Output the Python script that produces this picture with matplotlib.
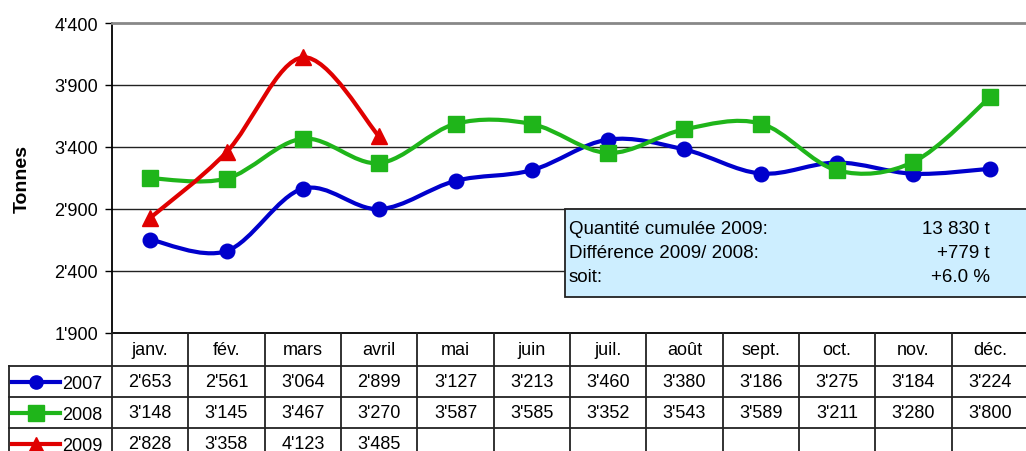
import matplotlib.pyplot as plt
from matplotlib.path import Path
from matplotlib.patches import PathPatch, Rectangle

plt.rcParams['font.family'] = ['Liberation Sans', 'DejaVu Sans']

# donnees
mois = ["janv.", "fév.", "mars", "avril", "mai", "juin",
        "juil.", "août", "sept.", "oct.", "nov.", "déc."]
v2007 = [2653, 2561, 3064, 2899, 3127, 3213, 3460, 3380, 3186, 3275, 3184, 3224]
v2008 = [3148, 3145, 3467, 3270, 3587, 3585, 3352, 3543, 3589, 3211, 3280, 3800]
v2009 = [2828, 3358, 4123, 3485]
annees = ["2007", "2008", "2009"]
couleurs = ["#0000cc", "#1fb51a", "#e00000"]
marqueurs = ["o", "s", "^"]
tailles = [10.5, 12, 11]
yticks = [1900, 2400, 2900, 3400, 3900, 4400]
box_labels = ["Quantité cumulée 2009:", "Différence 2009/ 2008:", "soit:"]
box_values = ["13 830 t", "+779 t", "+6.0 %"]

series = [v2007, v2008, v2009]


def fmt(v):
    return f"{v:,}".replace(",", "'")


def smooth_path(vals):
    # courbe lissee facon Excel (Bezier type Catmull-Rom)
    pts = list(enumerate(vals))
    n = len(pts)
    verts = [pts[0]]
    codes = [Path.MOVETO]
    for i in range(n - 1):
        p0 = pts[max(i - 1, 0)]
        p1 = pts[i]
        p2 = pts[i + 1]
        p3 = pts[min(i + 2, n - 1)]
        c1 = (p1[0] + (p2[0] - p0[0]) / 6, p1[1] + (p2[1] - p0[1]) / 6)
        c2 = (p2[0] - (p3[0] - p1[0]) / 6, p2[1] - (p3[1] - p1[1]) / 6)
        verts += [c1, c2, p2]
        codes += [Path.CURVE4] * 3
    return Path(verts, codes)


fig = plt.figure(figsize=(10.26, 4.52), dpi=100)
W, H = 1026, 452

ax = fig.add_axes([112 / W, 118 / H, 916 / W, 310 / H])
ax.set_xlim(-0.5, 11.5)
ax.set_ylim(1900, 4400)
ax.set_yticks(yticks)
ax.set_yticklabels([fmt(t) for t in yticks], fontsize=13)
ax.tick_params(axis='y', length=5, width=1, pad=5, direction='out')
ax.set_xticks([])
for y in yticks[1:-1]:
    ax.axhline(y, color='#222222', lw=1, zorder=1)
ax.spines['right'].set_visible(False)
ax.spines['top'].set_color('#888888')
ax.spines['top'].set_linewidth(2)
ax.spines['left'].set_linewidth(1.3)
ax.spines['bottom'].set_linewidth(1.3)
ax.set_ylabel("Tonnes", fontsize=14, fontweight='bold', labelpad=17)

for k, vals in enumerate(series):
    patch = PathPatch(smooth_path(vals), facecolor='none', edgecolor=couleurs[k],
                      lw=3, zorder=3 + k, capstyle='round', joinstyle='round')
    ax.add_patch(patch)
    ax.plot(range(len(vals)), vals, linestyle='none', marker=marqueurs[k],
            ms=tailles[k], color=couleurs[k], zorder=3 + k, clip_on=False)

# encadre
ax.add_patch(Rectangle((453 / 916, 36 / 310), 470 / 916, 88 / 310,
                       transform=ax.transAxes, facecolor='#cdeeff',
                       edgecolor='#222222', lw=1.3, zorder=8, clip_on=False))
for i in range(3):
    yy = (334 - 229 - 24.5 * i) / 310
    ax.text(457 / 916, yy, box_labels[i], transform=ax.transAxes, fontsize=13.5,
            va='center', ha='left', zorder=9)
    ax.text(878 / 916, yy, box_values[i], transform=ax.transAxes, fontsize=13.5,
            va='center', ha='right', zorder=9)

# tableau
LEG = 103 / 76.33
axt = fig.add_axes([9 / W, 0, 1019 / W, 118 / H])
axt.set_xlim(-0.5 - LEG, 11.5)
axt.set_ylim(118, 0)
axt.axis('off')
lc = '#222222'
for x in range(13):
    axt.plot([x - 0.5, x - 0.5], [0, 130], color=lc, lw=1.3, clip_on=False)
axt.plot([-0.5 - LEG, -0.5 - LEG], [33, 130], color=lc, lw=1.3, clip_on=False)
for y in [33, 64, 95]:
    axt.plot([-0.5 - LEG, 11.5], [y, y], color=lc, lw=1.3, clip_on=False)

for i, m in enumerate(mois):
    axt.text(i, 17, m, ha='center', va='center', fontsize=13)
for k, vals in enumerate(series):
    yc = 48.5 + 31 * k
    for i, v in enumerate(vals):
        axt.text(i, yc, fmt(v), ha='center', va='center', fontsize=13)
    x0 = -0.5 - LEG + 3 / 76.33
    x1 = -0.5 - LEG + 51 / 76.33
    axt.plot([x0, (x0 + x1) / 2, x1], [yc, yc, yc], color=couleurs[k], lw=3,
             marker=marqueurs[k], markevery=[1], ms=tailles[k] - 1, clip_on=False)
    axt.text(x1 + 2 / 76.33, yc + 2, annees[k], ha='left', va='center', fontsize=13)

fig.savefig("out.png", dpi=100)
